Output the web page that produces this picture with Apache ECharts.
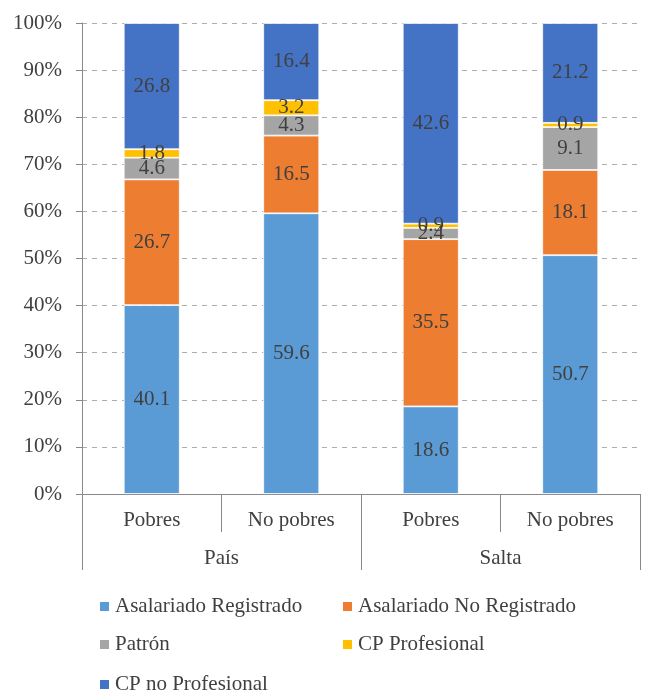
<!DOCTYPE html>
<html>
<head>
<meta charset="utf-8">
<script src="https://cdn.jsdelivr.net/npm/echarts@6/dist/echarts.min.js"></script>
<style>
  html, body { margin: 0; padding: 0; background: #fff; }
  #c { width: 648px; height: 692px; }
</style>
</head>
<body>
<div id="c"></div>
<script>
const groups = ['País', 'Salta']
const categories = ['Pobres', 'No pobres', 'Pobres', 'No pobres']
const seriesNames = ['Asalariado Registrado', 'Asalariado No Registrado', 'Patrón', 'CP Profesional', 'CP no Profesional']
const asalRegistrado = [40.1, 59.6, 18.6, 50.7]
const asalNoRegistrado = [26.7, 16.5, 35.5, 18.1]
const patron = [4.6, 4.3, 2.4, 9.1]
const cpProfesional = [1.8, 3.2, 0.9, 0.9]
const cpNoProfesional = [26.8, 16.4, 42.6, 21.2]
const colors = ['#5B9BD5', '#ED7D31', '#A5A5A5', '#FFC000', '#4472C4']

const font = "'Liberation Serif', 'Times New Roman', serif"
const fs = 21
const values = [asalRegistrado, asalNoRegistrado, patron, cpProfesional, cpNoProfesional]

const chart = echarts.init(document.getElementById('c'))

const legendText = { color: '#404040', fontSize: fs, fontFamily: font }
const axisColor = '#898989'

// legend laid out in two columns, one legend per entry
const legendCols = [98, 341]
const legendRows = [596, 634, 674]
const legends = seriesNames.map((name, i) => ({
  data: [name],
  left: legendCols[i % 2],
  top: legendRows[Math.floor(i / 2)],
  padding: 0,
  icon: 'rect',
  itemWidth: 11,
  itemHeight: 11,
  itemGap: 5,
  textStyle: legendText,
}))

chart.setOption({
  animation: false,
  color: colors,
  grid: { left: 82, right: 8, top: 23, bottom: 198 },
  legend: legends,
  xAxis: [
    {
      type: 'category',
      data: categories,
      axisLine: { lineStyle: { color: axisColor } },
      axisTick: { show: true, interval: 0, length: 38, lineStyle: { color: axisColor } },
      axisLabel: { color: '#404040', fontSize: fs, fontFamily: font, margin: 16 },
    },
    {
      type: 'category',
      data: groups,
      position: 'bottom',
      axisLine: { lineStyle: { color: axisColor } },
      axisTick: { show: true, interval: 0, length: 76, lineStyle: { color: axisColor } },
      axisLabel: { color: '#404040', fontSize: fs, fontFamily: font, margin: 54 },
    },
  ],
  yAxis: {
    type: 'value',
    min: 0,
    max: 100,
    interval: 10,
    axisLine: { show: true, lineStyle: { color: axisColor } },
    axisTick: { show: true, length: 6, lineStyle: { color: axisColor } },
    axisLabel: { formatter: '{value}%', color: '#404040', fontSize: fs, fontFamily: font, margin: 20 },
    splitLine: { lineStyle: { type: [5, 5], color: '#ADADAD' } },
  },
  series: seriesNames.map((name, i) => ({
    name,
    type: 'bar',
    stack: 'total',
    barWidth: 56,
    data: values[i],
    itemStyle: { color: colors[i], borderColor: '#fff', borderWidth: 0.8 },
    label: {
      show: true,
      position: 'inside',
      color: '#404040',
      fontSize: fs,
      fontFamily: font,
      formatter: p => p.value.toFixed(1),
    },
  })),
})
</script>
</body>
</html>
